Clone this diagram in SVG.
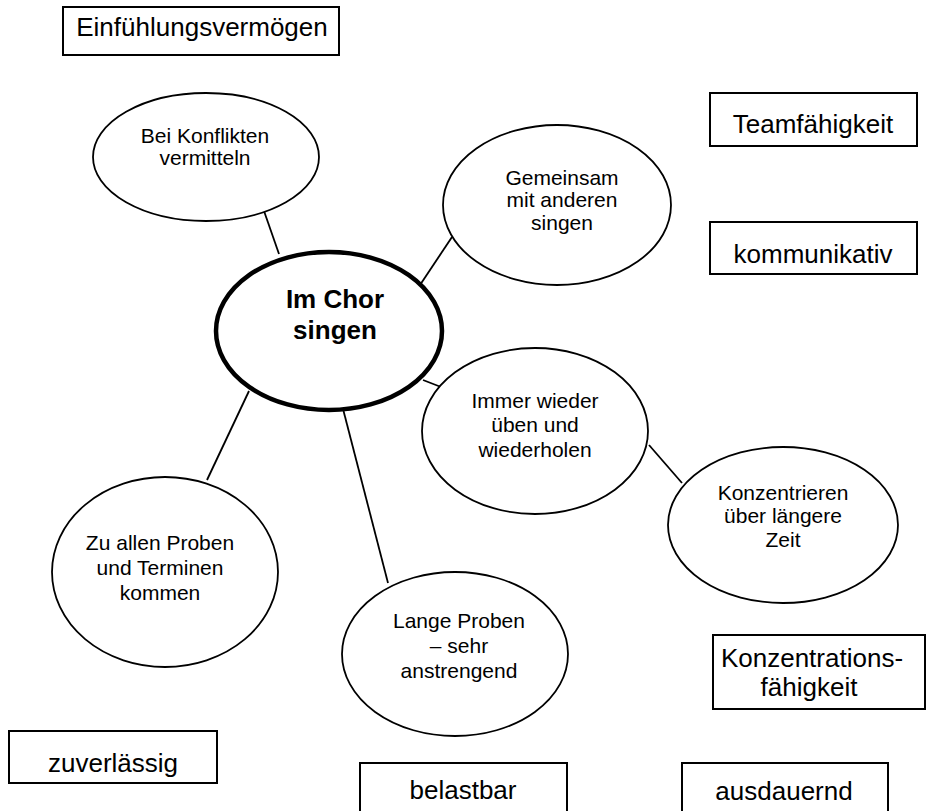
<svg xmlns="http://www.w3.org/2000/svg" width="926" height="811" viewBox="0 0 926 811">
<style>
.box{fill:#fff;stroke:#000;stroke-width:2}
.ell{fill:#fff;stroke:#000;stroke-width:1.8}
.main{fill:#fff;stroke:#000;stroke-width:4.5}
.bt{font-family:"Liberation Sans",Arial,sans-serif;font-size:26px;fill:#000;text-anchor:middle}
.et{font-family:"Liberation Sans",Arial,sans-serif;font-size:21px;fill:#000;text-anchor:middle}
.mt{font-family:"Liberation Sans",Arial,sans-serif;font-size:26px;font-weight:bold;fill:#000;text-anchor:middle}
.con{stroke:#000;stroke-width:1.8;fill:none}
</style>
<rect width="926" height="811" fill="#fff"/>
<g id="connectors">
<line class="con" x1="264" y1="211" x2="279" y2="254"/>
<line class="con" x1="452" y1="237" x2="420" y2="285"/>
<line class="con" x1="423" y1="380" x2="441" y2="387"/>
<line class="con" x1="649" y1="445" x2="682" y2="483"/>
<line class="con" x1="207" y1="480" x2="249" y2="391"/>
<line class="con" x1="388" y1="583" x2="342" y2="405"/>
</g>
<g id="main">
<ellipse class="main" cx="329" cy="331" rx="113" ry="79"/>
<text class="mt" x="335" y="308">Im Chor</text>
<text class="mt" x="335" y="339">singen</text>
</g>
<g id="konflikte">
<ellipse class="ell" cx="206" cy="157" rx="113" ry="64"/>
<text class="et" x="205" y="143">Bei Konflikten</text>
<text class="et" x="205" y="165">vermitteln</text>
</g>
<g id="gemeinsam">
<ellipse class="ell" cx="557" cy="205" rx="114" ry="80"/>
<text class="et" x="562" y="185">Gemeinsam</text>
<text class="et" x="562" y="207">mit anderen</text>
<text class="et" x="562" y="230">singen</text>
</g>
<g id="immer">
<ellipse class="ell" cx="535" cy="431" rx="113" ry="83"/>
<text class="et" x="535" y="408">Immer wieder</text>
<text class="et" x="535" y="432">üben und</text>
<text class="et" x="535" y="457">wiederholen</text>
</g>
<g id="konzentrieren">
<ellipse class="ell" cx="783" cy="525" rx="115" ry="78"/>
<text class="et" x="783" y="500">Konzentrieren</text>
<text class="et" x="783" y="523">über längere</text>
<text class="et" x="783" y="547">Zeit</text>
</g>
<g id="proben">
<ellipse class="ell" cx="165" cy="572" rx="113" ry="95"/>
<text class="et" x="160" y="550">Zu allen Proben</text>
<text class="et" x="160" y="575">und Terminen</text>
<text class="et" x="160" y="600">kommen</text>
</g>
<g id="lange">
<ellipse class="ell" cx="455" cy="654" rx="113" ry="82"/>
<text class="et" x="459" y="628">Lange Proben</text>
<text class="et" x="459" y="653">– sehr</text>
<text class="et" x="459" y="678">anstrengend</text>
</g>
<g id="einfuehlung">
<rect class="box" x="63" y="7" width="276" height="48"/>
<text class="bt" x="202" y="36">Einfühlungsvermögen</text>
</g>
<g id="team">
<rect class="box" x="710" y="93" width="207" height="53"/>
<text class="bt" x="813" y="133">Teamfähigkeit</text>
</g>
<g id="kommunikativ">
<rect class="box" x="710" y="222" width="207" height="52"/>
<text class="bt" x="813" y="263">kommunikativ</text>
</g>
<g id="konzentration">
<rect class="box" x="713" y="635" width="212" height="74"/>
<text class="bt" x="812" y="667">Konzentrations-</text>
<text class="bt" x="809" y="696">fähigkeit</text>
</g>
<g id="zuverlaessig">
<rect class="box" x="9" y="731" width="208" height="52"/>
<text class="bt" x="113" y="772">zuverlässig</text>
</g>
<g id="belastbar">
<rect class="box" x="360" y="763" width="207" height="60"/>
<text class="bt" x="463" y="799">belastbar</text>
</g>
<g id="ausdauernd">
<rect class="box" x="682" y="763" width="206" height="60"/>
<text class="bt" x="784" y="800">ausdauernd</text>
</g>
</svg>
